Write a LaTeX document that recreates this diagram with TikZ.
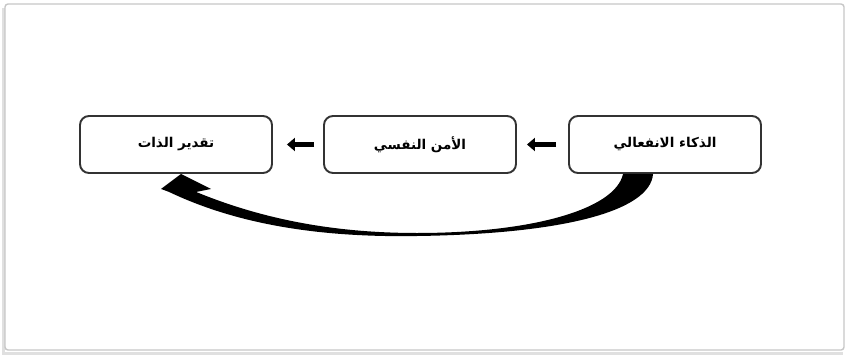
\documentclass[tikz,border=0pt]{standalone}
\usepackage{fontspec}
\newfontfamily\arabicfont[Script=Arabic]{DejaVu Sans}
\TeXXeTstate=1
\usetikzlibrary{calc,arrows.meta}
\tikzset{
  stage/.style={draw=black!80, line width=1.9pt, rounded corners=9pt, fill=white,
    minimum width=192pt, minimum height=57pt, inner sep=0pt,
    font=\arabicfont\bfseries\fontsize{13.5}{15}\selectfont},
  linkarrow/.style={line width=5pt, -{Triangle[length=8pt,width=13pt]}},
  sweep/.style={fill=black, draw=none},
  frameline/.style={draw=black!22, line width=1.4pt}
}
\begin{document}
\begin{tikzpicture}[x=1pt,y=-1pt]
  \useasboundingbox (0,0) rectangle (848,356);
  \fill[white] (0,0) rectangle (848,356);
  % outer frame with a soft shadow on the left and bottom
  \draw[black!12, line width=3pt] (3,8) -- (3,353) -- (843,353);
  \draw[frameline, rounded corners=3pt] (5,4) rectangle (844,350);

  % the three stages
  \node[stage] (a) at (176,144.5) {\beginR تقدير الذات\endR};
  \node[stage] (b) at (420,144.5) {\beginR الأمن النفسي\endR};
  \node[stage] (c) at (665,144.5) {\beginR الذكاء الانفعالي\endR};

  % short arrows between neighbouring stages
  \draw[linkarrow] ($(b.west)+(-9,0)$) -- ($(a.east)+(14,0)$);
  \draw[linkarrow] ($(c.west)+(-12,0)$) -- ($(b.east)+(10,0)$);

  % sweeping tapered arrow from the last stage back to the first
  \coordinate (so) at ($(c.south west)+(85,0)$);
  \coordinate (si) at ($(c.south west)+(55,0)$);
  \coordinate (tip) at ($(a.south west)+(102,0)$);
  \fill[sweep] (so) .. controls (650,212) and (560,234) .. (417,236)
    .. controls (300,238) and (224,218) .. ($(tip)+(-12,18)$)
    -- ($(tip)+(-20,15)$) -- (tip) -- ($(tip)+(30,15)$) -- ($(tip)+(15,18)$)
    .. controls (250,214) and (320,233) .. (417,233)
    .. controls (530,233) and (615,210) .. (si) -- cycle;
\end{tikzpicture}
\end{document}
